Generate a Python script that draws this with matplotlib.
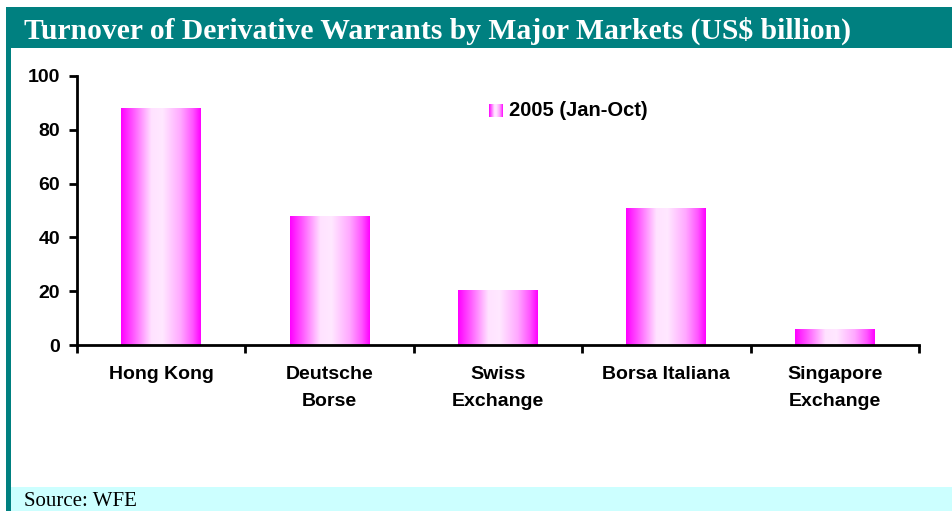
import numpy as np
import matplotlib
matplotlib.use("Agg")
import matplotlib.pyplot as plt
from matplotlib.colors import LinearSegmentedColormap
from matplotlib.patches import Rectangle

categories = ["Hong Kong", "Deutsche\nBorse", "Swiss\nExchange", "Borsa Italiana", "Singapore\nExchange"]
values = [88.1, 47.6, 20.4, 50.9, 5.6]
series_name = "2005 (Jan-Oct)"
yticks = [0, 20, 40, 60, 80, 100]
title = "Turnover of Derivative Warrants by Major Markets (US$ billion)"
source = "Source: WFE"

W, H = 952, 511
fig = plt.figure(figsize=(W / 100, H / 100), dpi=100)

def px(x0, y0, x1, y1):
    return [x0 / W, 1 - y1 / H, (x1 - x0) / W, (y1 - y0) / H]

teal = "#008080"
# title bar
fig.patches.append(Rectangle((6 / W, 1 - 48 / H), 1, 41 / H, transform=fig.transFigure,
                             facecolor=teal, edgecolor="none", zorder=0))
# left border
fig.patches.append(Rectangle((6 / W, 0), 5 / W, 1 - 48 / H, transform=fig.transFigure,
                             facecolor=teal, edgecolor="none", zorder=0))
# source bar
fig.patches.append(Rectangle((11 / W, 0), 1, 24 / H, transform=fig.transFigure,
                             facecolor="#CCFFFF", edgecolor="none", zorder=0))
fig.text(24 / W, 1 - 39 / H, title, color="white", fontsize=21.3, fontweight="bold",
         family="Liberation Serif", va="baseline", ha="left")
fig.text(24 / W, 1 - 506 / H, source, color="black", fontsize=15,
         family="Liberation Serif", va="baseline", ha="left")

ax = fig.add_axes(px(77, 76, 919, 345))
cmap = LinearSegmentedColormap.from_list("g", [
    (0.0, "#FF00FF"), (0.15, "#FF55FF"), (0.38, "#FFE2FF"), (0.52, "#FFE8FF"),
    (0.75, "#FFA8FF"), (0.9, "#FF55FF"), (1.0, "#FF00FF")])
grad = np.linspace(0, 1, 256).reshape(1, -1)
bw = 0.475
x = np.arange(len(categories))
for xi, v in zip(x, values):
    ax.imshow(grad, cmap=cmap, extent=[xi - bw / 2, xi + bw / 2, 0, v],
              aspect="auto", interpolation="bilinear", zorder=2)

fs = 14
ax.set_xlim(-0.5, len(categories) - 0.5)
ax.set_ylim(0, 100)
ax.set_yticks(yticks)
ax.set_yticklabels([str(t) for t in yticks])
ax.set_xticks(np.arange(-0.5, len(categories), 1.0))
ax.set_xticklabels([])
ax.set_xticks(x, minor=True)
ax.set_xticklabels(categories, minor=True, fontsize=fs, fontweight="bold",
                   family="Liberation Sans", linespacing=1.75)
ax.tick_params(axis="x", which="minor", length=0, pad=15)
ax.tick_params(axis="x", which="major", length=6, width=2, direction="out")
ax.tick_params(axis="y", length=6, width=2, direction="out", pad=6)
for lab in ax.get_yticklabels():
    lab.set_fontsize(fs)
    lab.set_fontweight("bold")
    lab.set_family("Liberation Sans")
for s in ["top", "right"]:
    ax.spines[s].set_visible(False)
for s in ["left", "bottom"]:
    ax.spines[s].set_linewidth(2)
ax.patch.set_alpha(0)

# legend
lg_ax = fig.add_axes(px(489, 104, 503, 117))
lg_ax.imshow(grad, cmap=cmap, aspect="auto", extent=[0, 1, 0, 1])
lg_ax.axis("off")
fig.text(509 / W, 1 - 116.5 / H, series_name, fontsize=14.5, fontweight="bold",
         family="Liberation Sans", va="baseline", ha="left")

fig.savefig("out.png", dpi=100)
